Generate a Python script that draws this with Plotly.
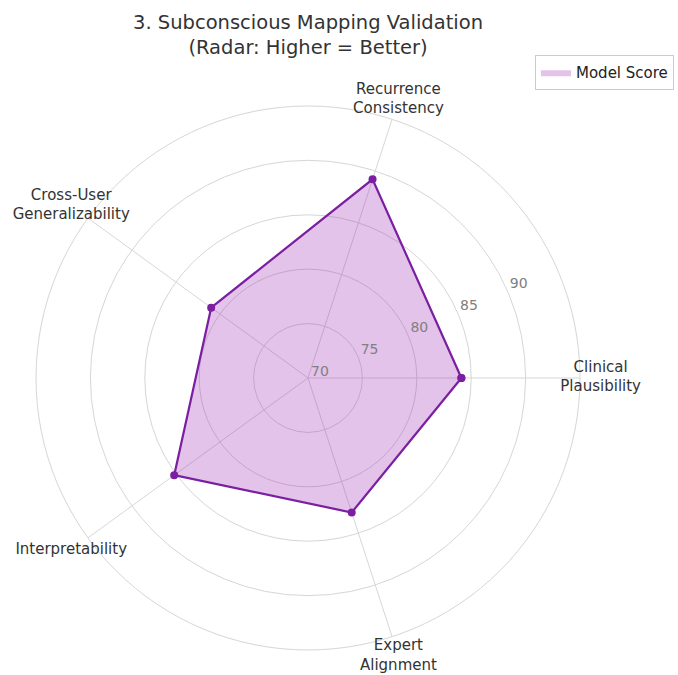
import plotly.graph_objects as go

categories = ["Clinical<br>Plausibility", "Recurrence<br>Consistency", "Cross-User<br>Generalizability",
              "Interpretability", "Expert<br>Alignment"]
scores = [84.1, 89.2, 81.0, 85.2, 83.0]
radial_ticks = [70, 75, 80, 85, 90]
radial_min, radial_outer, radial_max = 70, 95, 97.3
label_r = 96.9          # radius of the category labels (data units)
tick_label_angle = 24   # degrees of the radial tick labels

n = len(categories)
angles = [i * 360 / n for i in range(n)]
theta = angles + [angles[0]]
r = scores + [scores[0]]

grid_color = "#d6d6d6"
fig = go.Figure()
# spokes (angular grid lines ending at the outer circle)
spoke_r, spoke_t = [], []
for a in angles:
    spoke_r += [radial_min, radial_outer, None]
    spoke_t += [a, a, None]
fig.add_trace(go.Scatterpolar(
    r=spoke_r, theta=spoke_t, mode="lines", line=dict(color=grid_color, width=1),
    showlegend=False, hoverinfo="skip", connectgaps=False))
fig.add_trace(go.Scatterpolar(
    r=r, theta=theta, mode="lines", fill="toself",
    fillcolor="rgba(156,39,176,0.28)", line=dict(width=0, color="rgba(0,0,0,0)"),
    name="Model Score", showlegend=True, hoverinfo="skip"))
fig.add_trace(go.Scatterpolar(
    r=r, theta=theta, mode="lines+markers",
    line=dict(color="#7b1fa2", width=2.2), marker=dict(size=8, color="#7b1fa2"),
    name="Model Score", showlegend=False))
# category labels
fig.add_trace(go.Scatterpolar(
    r=[label_r] * n, theta=angles, mode="text", text=categories,
    textposition="middle center", textfont=dict(size=15, color="#333333"),
    showlegend=False, hoverinfo="skip"))
# radial tick labels
fig.add_trace(go.Scatterpolar(
    r=[v + 1.2 for v in radial_ticks], theta=[tick_label_angle] * len(radial_ticks),
    mode="text", text=[str(v) for v in radial_ticks],
    textposition="middle center", textfont=dict(size=14, color="#808080"),
    showlegend=False, hoverinfo="skip"))

W, H = 678, 675
cx, cy = 308, 378
px_per_unit = 272 / (radial_outer - radial_min)
R = px_per_unit * (radial_max - radial_min)
fig.update_layout(
    width=W, height=H,
    margin=dict(l=0, r=0, t=0, b=0),
    paper_bgcolor="white",
    font=dict(family="DejaVu Sans", color="#333333", size=15),
    annotations=[dict(text="3. Subconscious Mapping Validation<br>(Radar: Higher = Better)",
                      x=308 / W, xref="paper", xanchor="center",
                      y=1 - 9 / H, yref="paper", yanchor="top", showarrow=False,
                      font=dict(size=19.5, color="#333333"))],
    legend=dict(x=535 / W, y=1 - 55 / H, xanchor="left", yanchor="top",
                bgcolor="white", bordercolor="#cccccc", borderwidth=1,
                font=dict(size=15, color="#222222")),
    polar=dict(
        domain=dict(x=[(cx - R) / W, (cx + R) / W],
                    y=[max(0, (H - cy - R) / H), min(1, (H - cy + R) / H)]),
        bgcolor="rgba(0,0,0,0)",
        angularaxis=dict(rotation=0, direction="counterclockwise",
                         showgrid=False, showline=False, showticklabels=False, ticks=""),
        radialaxis=dict(range=[radial_min, radial_max], tickvals=radial_ticks + [radial_outer],
                        showline=False, ticks="", showticklabels=False,
                        gridcolor=grid_color, layer="below traces"),
    ),
)
fig.write_html("out.html", post_script="document.body.style.margin='0';",
               config={"displayModeBar": False})
